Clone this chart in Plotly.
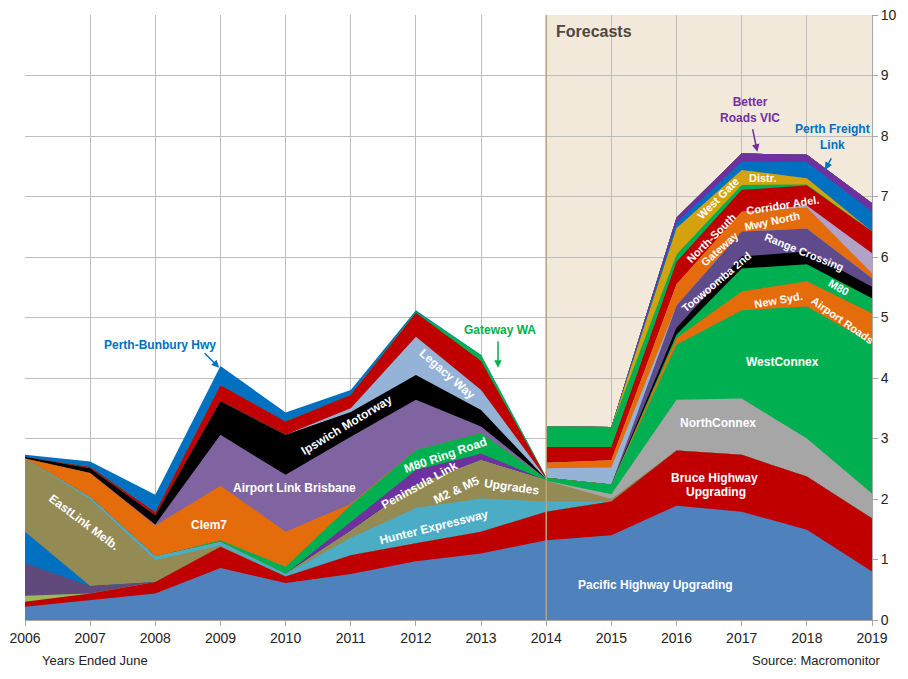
import plotly.graph_objects as go

# x positions: 2014 appears twice (end of actuals, start of forecasts)
years = [2006, 2007, 2008, 2009, 2010, 2011, 2012, 2013, 2014, 2014, 2015, 2016, 2017, 2018, 2019]
tick_years = list(range(2006, 2020))
y_ticks = list(range(0, 11))

# ---- series values ($bn), bottom to top ----
pacific_hwy   = [0.22, 0.33, 0.44, 0.86, 0.61, 0.76, 0.97, 1.10, 1.32, 1.32, 1.40, 1.89, 1.79, 1.49, 0.80]
bruce_hwy     = [0.08, 0.11, 0.19, 0.35, 0.11, 0.31, 0.30, 0.36, 0.47, 0.47, 0.56, 0.91, 0.94, 0.88, 0.88]
other_green   = [0.10, 0.00, 0.00, 0.00, 0.00, 0.00, 0.00, 0.00, 0.00, 0.00, 0.00, 0.00, 0.00, 0.00, 0.00]
other_purple  = [0.54, 0.12, 0.00, 0.00, 0.00, 0.00, 0.00, 0.00, 0.00, 0.00, 0.00, 0.00, 0.00, 0.00, 0.00]
other_blue    = [0.52, 0.00, 0.00, 0.00, 0.00, 0.00, 0.00, 0.00, 0.00, 0.00, 0.00, 0.00, 0.00, 0.00, 0.00]
eastlink      = [1.21, 1.44, 0.36, 0.02, 0.00, 0.00, 0.00, 0.00, 0.00, 0.00, 0.00, 0.00, 0.00, 0.00, 0.00]
hunter_exp    = [0.00, 0.03, 0.06, 0.06, 0.04, 0.29, 0.58, 0.55, 0.17, 0.17, 0.00, 0.00, 0.00, 0.00, 0.00]
m2_m5         = [0.00, 0.00, 0.00, 0.00, 0.00, 0.11, 0.38, 0.63, 0.35, 0.34, 0.04, 0.00, 0.00, 0.00, 0.00]
northconnex   = [0.00, 0.00, 0.00, 0.00, 0.00, 0.00, 0.00, 0.00, 0.00, 0.00, 0.08, 0.84, 0.93, 0.63, 0.41]
westconnex    = [0.00, 0.00, 0.00, 0.00, 0.00, 0.00, 0.00, 0.00, 0.00, 0.05, 0.16, 0.91, 1.46, 2.18, 2.48]
new_syd_air   = [0.00, 0.00, 0.00, 0.00, 0.00, 0.00, 0.00, 0.00, 0.00, 0.00, 0.00, 0.11, 0.31, 0.42, 0.50]
m80_fc        = [0.00, 0.00, 0.00, 0.00, 0.00, 0.00, 0.00, 0.00, 0.00, 0.00, 0.00, 0.06, 0.38, 0.28, 0.25]
black_fc      = [0.00, 0.00, 0.00, 0.00, 0.00, 0.00, 0.00, 0.00, 0.00, 0.00, 0.00, 0.11, 0.20, 0.21, 0.19]
toowoomba     = [0.00, 0.00, 0.00, 0.00, 0.00, 0.00, 0.00, 0.00, 0.00, 0.00, 0.00, 0.37, 0.41, 0.38, 0.14]
light_fc      = [0.00, 0.00, 0.00, 0.00, 0.00, 0.00, 0.00, 0.00, 0.00, 0.16, 0.28, 0.00, 0.00, 0.00, 0.00]
gateway_mwy_n = [0.00, 0.00, 0.00, 0.00, 0.00, 0.00, 0.00, 0.00, 0.00, 0.09, 0.12, 0.35, 0.33, 0.35, 0.08]
lavender_fc   = [0.00, 0.00, 0.00, 0.00, 0.00, 0.00, 0.00, 0.00, 0.00, 0.00, 0.00, 0.00, 0.00, 0.03, 0.33]
ns_corridor   = [0.00, 0.00, 0.00, 0.00, 0.00, 0.00, 0.00, 0.00, 0.00, 0.26, 0.22, 0.37, 0.36, 0.33, 0.36]
green_fc      = [0.00, 0.00, 0.00, 0.00, 0.00, 0.00, 0.00, 0.00, 0.00, 0.34, 0.33, 0.12, 0.08, 0.02, 0.00]
west_gate     = [0.00, 0.00, 0.00, 0.00, 0.00, 0.00, 0.00, 0.00, 0.00, 0.00, 0.00, 0.44, 0.25, 0.10, 0.00]
perth_freight = [0.00, 0.00, 0.00, 0.00, 0.00, 0.00, 0.00, 0.00, 0.00, 0.00, 0.00, 0.09, 0.14, 0.27, 0.33]
better_roads  = [0.00, 0.00, 0.00, 0.00, 0.00, 0.00, 0.00, 0.00, 0.00, 0.00, 0.00, 0.08, 0.13, 0.12, 0.14]
peninsula     = [0.00, 0.00, 0.00, 0.00, 0.00, 0.15, 0.25, 0.11, 0.00, 0.00, 0.00, 0.00, 0.00, 0.00, 0.00]
m80_ring      = [0.00, 0.00, 0.00, 0.03, 0.12, 0.28, 0.33, 0.34, 0.02, 0.00, 0.00, 0.00, 0.00, 0.00, 0.00]
clem7         = [0.00, 0.40, 0.51, 0.90, 0.58, 0.02, 0.00, 0.00, 0.00, 0.00, 0.00, 0.00, 0.00, 0.00, 0.00]
airport_link  = [0.00, 0.00, 0.02, 0.84, 0.94, 1.11, 0.83, 0.11, 0.00, 0.00, 0.00, 0.00, 0.00, 0.00, 0.00]
ipswich       = [0.03, 0.08, 0.15, 0.56, 0.66, 0.41, 0.41, 0.27, 0.00, 0.00, 0.00, 0.00, 0.00, 0.00, 0.00]
legacy_way    = [0.00, 0.00, 0.00, 0.00, 0.00, 0.06, 0.63, 0.33, 0.01, 0.00, 0.00, 0.00, 0.00, 0.00, 0.00]
red_hist      = [0.00, 0.02, 0.05, 0.26, 0.22, 0.22, 0.40, 0.48, 0.01, 0.00, 0.00, 0.00, 0.00, 0.00, 0.00]
gateway_wa    = [0.00, 0.00, 0.00, 0.00, 0.00, 0.00, 0.02, 0.10, 0.01, 0.00, 0.00, 0.00, 0.00, 0.00, 0.00]
perth_bunbury = [0.03, 0.09, 0.29, 0.32, 0.15, 0.08, 0.02, 0.00, 0.00, 0.00, 0.00, 0.00, 0.00, 0.00, 0.00]

series = [
    (pacific_hwy, "#4F81BD"), (bruce_hwy, "#C00000"), (other_green, "#9BBB59"),
    (other_purple, "#604A7B"), (other_blue, "#0070C0"), (eastlink, "#948A54"),
    (hunter_exp, "#4BACC6"), (m2_m5, "#948A54"), (northconnex, "#A6A6A6"),
    (westconnex, "#00B050"), (new_syd_air, "#E46C0A"), (m80_fc, "#00B050"),
    (black_fc, "#000000"), (toowoomba, "#5F4B8B"), (light_fc, "#95B3D7"),
    (gateway_mwy_n, "#E46C0A"), (lavender_fc, "#B3A2C7"), (ns_corridor, "#C00000"),
    (green_fc, "#00B050"), (west_gate, "#D4A20C"), (perth_freight, "#0070C0"),
    (better_roads, "#7030A0"), (peninsula, "#7030A0"), (m80_ring, "#00B050"),
    (clem7, "#E46C0A"), (airport_link, "#8064A2"), (ipswich, "#000000"),
    (legacy_way, "#95B3D7"), (red_hist, "#C00000"), (gateway_wa, "#00B050"),
    (perth_bunbury, "#0070C0"),
]

# cumulative tops
cum = []
run = [0.0] * len(years)
for vals, col in series:
    run = [a + b for a, b in zip(run, vals)]
    cum.append((list(run), col))

fig = go.Figure()
xs_poly = years + years[::-1]
for top, col in reversed(cum):
    fig.add_trace(go.Scatter(
        x=xs_poly, y=top + [0.0] * len(years), fill="toself", fillcolor=col,
        mode="lines", line=dict(width=0, color=col), hoverinfo="skip", showlegend=False))

FONT = "Liberation Sans, Arial, sans-serif"
ann = []

def lab(text, x, y, angle=0, size=12, color="white"):
    ann.append(dict(x=x, y=y, text="<b>" + text + "</b>", showarrow=False, textangle=angle,
                    font=dict(family=FONT, size=size, color=color)))

lab("EastLink Melb.", 2006.9, 1.62, 37)
lab("Clem7", 2008.82, 1.57)
lab("Airport Link Brisbane", 2010.14, 2.18)
lab("Ipswich Motorway", 2010.94, 3.22, -31)
lab("Legacy Way", 2012.48, 4.07, 41)
lab("M80 Ring Road", 2012.46, 2.73, -19)
lab("Peninsula Link", 2012.06, 2.23, -29)
lab("M2 &amp; M5", 2012.62, 2.15, -25)
lab("Upgrades", 2013.48, 2.20, 8)
lab("Hunter Expressway", 2012.28, 1.54, -14)
lab("Pacific Highway Upgrading", 2015.67, 0.58)
lab("Bruce Highway", 2016.58, 2.35)
lab("Upgrading", 2016.6, 2.12)
lab("NorthConnex", 2016.64, 3.26)
lab("WestConnex", 2017.62, 4.26)
lab("New Syd.", 2017.56, 5.29, -10, 11)
lab("Airport Roads", 2018.54, 4.96, 35, 11)
lab("M80", 2018.48, 5.50, 30, 11)
lab("Toowoomba 2nd", 2016.61, 5.59, -40, 11)
lab("Range Crossing", 2017.96, 6.08, 22, 11)
lab("Gateway", 2016.66, 6.13, -42, 11)
lab("Mwy North", 2017.47, 6.60, -12, 11)
lab("North-South", 2016.53, 6.32, -45, 11)
lab("Corridor Adel.", 2017.63, 6.86, -9, 11)
lab("West Gate", 2016.64, 6.98, -45, 11)
lab("Distr.", 2017.33, 7.31, 0, 11)

def callout(text, tx, ty, hx, hy, dx, dy, color):
    ann.append(dict(x=tx, y=ty, text="<b>" + text + "</b>", showarrow=False,
                    font=dict(family=FONT, size=12, color=color)))
    ann.append(dict(x=hx, y=hy, ax=dx, ay=dy, text="", showarrow=True, arrowhead=2,
                    arrowsize=1, arrowwidth=1.5, arrowcolor=color))

callout("Perth-Bunbury Hwy", 2008.07, 4.55, 2008.98, 4.17, -16, -16, "#0070C0")
callout("Gateway WA", 2013.29, 4.79, 2013.26, 4.17, 0, -28, "#00B050")
callout("Better<br>Roads VIC", 2017.13, 8.43, 2017.24, 7.74, -5, -24, "#7030A0")
callout("Perth Freight<br>Link", 2018.40, 7.98, 2018.28, 7.44, 7, -13, "#0070C0")

ann.append(dict(x=2014.12, y=9.72, xanchor="left", text="<b>Forecasts</b>", showarrow=False,
                font=dict(family=FONT, size=16, color="#4F463C")))
ann.append(dict(xref="paper", yref="paper", x=(40 - 25) / 847, y=-0.083, xanchor="left",
                yanchor="bottom", text="Years Ended June", showarrow=False,
                font=dict(family=FONT, size=13, color="#222")))
ann.append(dict(xref="paper", yref="paper", x=(883 - 25) / 847, y=-0.083, xanchor="right",
                yanchor="bottom", text="Source: Macromonitor", showarrow=False,
                font=dict(family=FONT, size=13, color="#222")))

shapes = [
    dict(type="rect", xref="x", yref="y", x0=2014, x1=2019, y0=0, y1=10,
         fillcolor="#F2E9DB", line=dict(width=0), layer="below"),
    dict(type="line", xref="x", yref="y", x0=2014, x1=2014, y0=0, y1=10,
         line=dict(color="#B8A47E", width=1.5), layer="above"),
]

# the page body adds an 8px margin, so the figure is sized to fit inside the window
fig.update_layout(
    width=892, height=663, margin=dict(l=17, r=28, t=7, b=51, autoexpand=False),
    paper_bgcolor="white", plot_bgcolor="rgba(0,0,0,0)",
    annotations=ann, shapes=shapes, showlegend=False,
    font=dict(family=FONT, size=14, color="#222"),
    xaxis=dict(range=[2006, 2019], tickvals=tick_years, ticktext=[str(t) for t in tick_years],
               showgrid=True, gridcolor="#BDBDBD", gridwidth=1, zeroline=False,
               showline=True, linecolor="#A6A6A6", ticks="outside", ticklen=5, tickcolor="#A6A6A6",
               tickfont=dict(size=14, color="#222"), ticklabeloverflow="allow"),
    yaxis=dict(range=[0, 10], tickvals=y_ticks, side="right", showgrid=True,
               gridcolor="#BDBDBD", gridwidth=1, zeroline=False, showline=True,
               linecolor="#A6A6A6", ticks="outside", ticklen=5, tickcolor="#A6A6A6",
               tickfont=dict(size=14, color="#222"), ticklabeloverflow="allow"),
)

fig.write_html("out.html")
